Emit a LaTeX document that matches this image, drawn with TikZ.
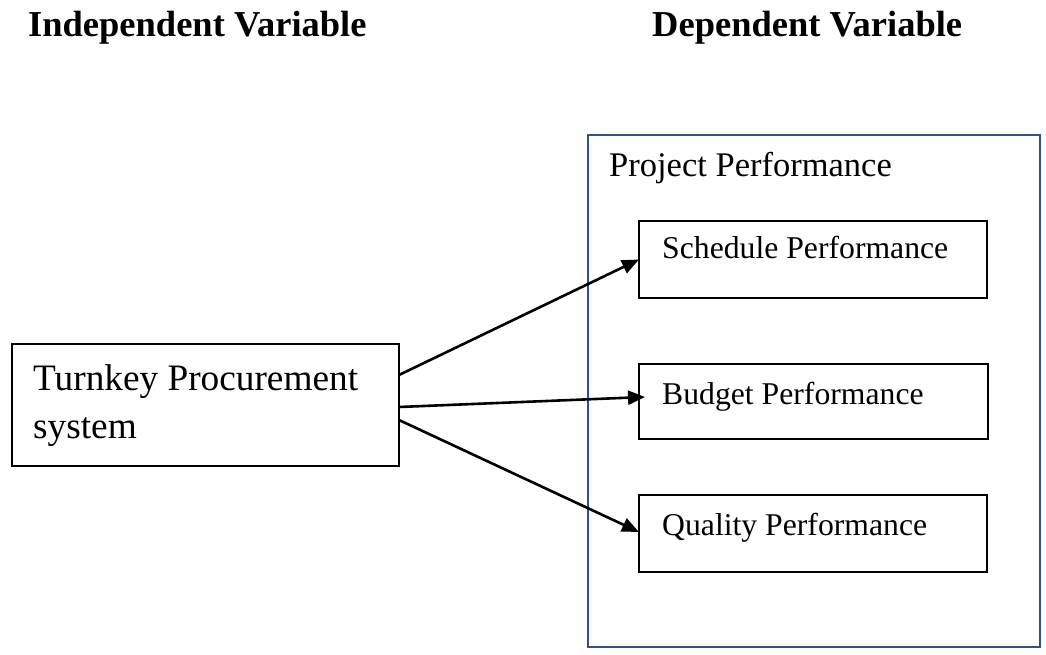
\documentclass[tikz,border=0pt]{standalone}
\usepackage{fontspec}
\setmainfont{Liberation Serif}
\usetikzlibrary{arrows.meta}
\definecolor{frameblue}{HTML}{2F528F}
\tikzset{
  box/.style={draw=black, line width=2.4pt, rectangle, inner sep=0pt, outer sep=0pt, anchor=north west},
  outerbox/.style={draw=frameblue, line width=2.2pt, rectangle, inner sep=0pt, outer sep=0pt, anchor=north west},
  lbl/.style={inner sep=0pt, anchor=base west},
  heading/.style={lbl, font=\fontsize{36.5}{44}\selectfont\bfseries},
  bigtxt/.style={lbl, font=\fontsize{37.3}{45}\selectfont},
  midtxt/.style={lbl, font=\fontsize{34.5}{41}\selectfont},
  smalltxt/.style={lbl, font=\fontsize{31.7}{38}\selectfont},
  link/.style={draw=black, line width=2.6pt, -{Triangle[length=17pt, width=14pt]}}
}
\begin{document}
\begin{tikzpicture}[x=1pt, y=-1pt]
  \useasboundingbox (0,0) rectangle (1046,655);

  % column headings
  \node[heading] (indep) at (28,37) {Independent Variable};
  \node[heading] (dep) at (652,37) {Dependent Variable};

  % outer frame for the dependent variable
  \node[outerbox, minimum width=452pt, minimum height=512pt] (perf) at (588,135) {};
  \node[midtxt] (perftxt) at (609,177) {Project Performance};

  % dimension boxes
  \node[box, minimum width=348pt, minimum height=77pt] (sched) at (639,221) {};
  \node[smalltxt] (schedtxt) at (662,258) {Schedule Performance};

  \node[box, minimum width=349pt, minimum height=75pt] (budget) at (639,364) {};
  \node[smalltxt] (budgettxt) at (662,404) {Budget Performance};

  \node[box, minimum width=348pt, minimum height=77pt] (quality) at (639,495) {};
  \node[smalltxt] (qualitytxt) at (662,535) {Quality Performance};

  % independent variable box
  \node[box, minimum width=387pt, minimum height=122pt] (turnkey) at (12,344) {};
  \node[bigtxt] (turnkeytxt1) at (33,390) {Turnkey Procurement};
  \node[bigtxt] (turnkeytxt2) at (33,438) {system};

  % relations
  \draw[link] ([yshift=30pt]turnkey.east) -- (sched.west);
  \draw[link] ([yshift=-2pt]turnkey.east) -- ([xshift=6pt, yshift=4.5pt]budget.west);
  \draw[link] ([yshift=-15pt]turnkey.east) -- ([yshift=1.5pt]quality.west);
\end{tikzpicture}
\end{document}
